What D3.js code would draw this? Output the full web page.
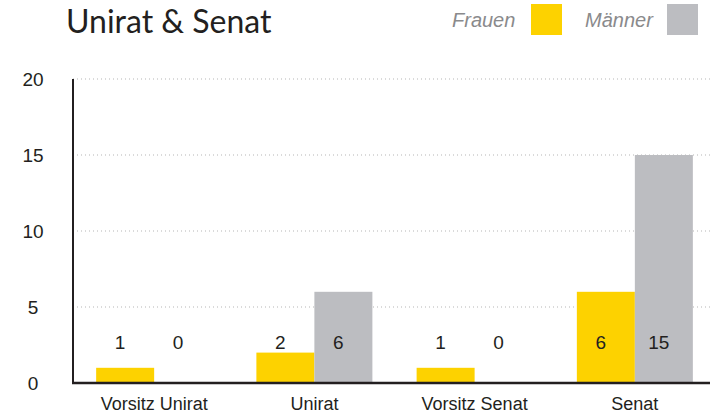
<!DOCTYPE html>
<html>
<head>
<meta charset="utf-8">
<script src="https://cdn.jsdelivr.net/npm/d3@7"></script>
<style>
  body { margin: 0; background: #fff; }
  svg { display: block; }
</style>
</head>
<body>
<div id="chart"></div>
<script>
// data
let categories = ["Vorsitz Unirat", "Unirat", "Vorsitz Senat", "Senat"];
let frauen = [1, 2, 1, 6];
let maenner = [0, 6, 0, 15];
let yTicks = [0, 5, 10, 15, 20];
let seriesNames = ["Frauen", "Männer"];
let seriesColors = ["#fdd200", "#bcbdc1"];

let width = 711, height = 416;

let svg = d3.select('#chart')
    .append('svg')
    .attr('width', width)
    .attr('height', height);

let x = d3.scaleBand()
    .domain(categories)
    .range([75, 714])
    .paddingInner(0.276)
    .paddingOuter(0.132);

let xSub = d3.scaleBand()
    .domain(seriesNames)
    .range([0, x.bandwidth()]);

let y = d3.scaleLinear()
    .domain([0, 20])
    .range([383, 79]);

// gridlines
svg.append('g')
    .selectAll('line')
    .data(yTicks.filter(d => d > 0))
    .enter()
    .append('line')
    .attr('x1', 73)
    .attr('x2', 710)
    .attr('y1', d => y(d))
    .attr('y2', d => y(d))
    .attr('stroke', '#b5b5b5')
    .attr('stroke-width', 1)
    .attr('stroke-dasharray', '1,3');

// y tick labels
svg.append('g')
    .selectAll('text')
    .data(yTicks)
    .enter()
    .append('text')
    .attr('x', 33)
    .attr('y', d => y(d) + 7)
    .attr('text-anchor', 'middle')
    .style('font-family', 'Liberation Sans, Arial, sans-serif')
    .style('font-size', '19px')
    .attr('fill', '#231f20')
    .text(d => d);

// bars
let rows = categories.map((c, i) => ({ cat: c, vals: [frauen[i], maenner[i]] }));

let groups = svg.append('g')
    .selectAll('g')
    .data(rows)
    .enter()
    .append('g')
    .attr('transform', d => 'translate(' + x(d.cat) + ',0)');

groups.selectAll('rect')
    .data(d => d.vals.map((v, j) => ({ name: seriesNames[j], v: v, j: j })))
    .enter()
    .append('rect')
    .attr('x', d => xSub(d.name))
    .attr('y', d => y(d.v))
    .attr('width', xSub.bandwidth())
    .attr('height', d => 383 - y(d.v))
    .attr('fill', d => seriesColors[d.j]);

groups.selectAll('text')
    .data(d => d.vals.map((v, j) => ({ name: seriesNames[j], v: v })))
    .enter()
    .append('text')
    .attr('x', d => xSub(d.name) + xSub.bandwidth() / 2 - 5)
    .attr('y', 349)
    .attr('text-anchor', 'middle')
    .style('font-family', 'Liberation Sans, Arial, sans-serif')
    .style('font-size', '19px')
    .attr('fill', '#231f20')
    .text(d => d.v);

// axes lines
svg.append('line')
    .attr('x1', 73).attr('x2', 73)
    .attr('y1', 79).attr('y2', 384)
    .attr('stroke', '#231f20')
    .attr('stroke-width', 2);

let xAxis = d3.axisBottom(x).tickSize(0).tickPadding(14);
let gx = svg.append('g')
    .attr('transform', 'translate(0,383)')
    .call(xAxis);
gx.select('.domain')
    .attr('d', 'M72,0H710')
    .attr('stroke', '#231f20')
    .attr('stroke-width', 2.5);
gx.selectAll('text')
    .style('font-family', 'Liberation Sans, Arial, sans-serif')
    .style('font-size', '18px')
    .attr('fill', '#231f20');

// title
svg.append('text')
    .attr('x', 66)
    .attr('y', 33)
    .style('font-family', 'Lato, sans-serif')
    .style('font-size', '32px')
    .attr('fill', '#231f20')
    .text('Unirat & Senat');

// legend
let legendX = [[452, 531], [585, 667]];
seriesNames.forEach(function (n, i) {
    svg.append('text')
        .attr('x', legendX[i][0])
        .attr('y', 27)
        .style('font-family', 'Liberation Sans, Arial, sans-serif')
        .style('font-style', 'italic')
        .style('font-size', '20px')
        .attr('fill', '#8a8a8c')
        .text(n);
    svg.append('rect')
        .attr('x', legendX[i][1])
        .attr('y', 4)
        .attr('width', 31)
        .attr('height', 31)
        .attr('fill', seriesColors[i]);
});
</script>
</body>
</html>
